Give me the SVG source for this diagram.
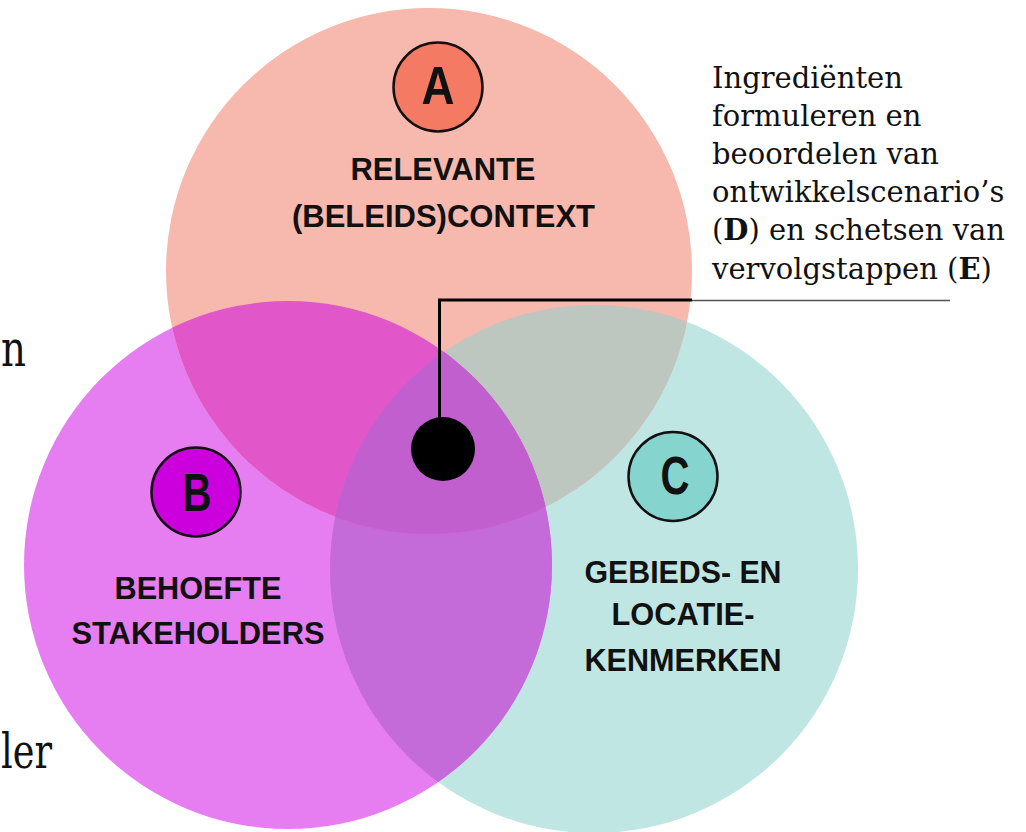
<svg xmlns="http://www.w3.org/2000/svg" width="1026" height="832" viewBox="0 0 1026 832">
<style>
.lbl{font-family:"Liberation Sans Narrow","Liberation Sans",Arial,sans-serif;font-weight:bold;font-size:32px;fill:#111;text-anchor:middle}
.badge{stroke:#111;stroke-width:2.5}
.bl{font-family:"Liberation Sans Narrow","Liberation Sans",Arial,sans-serif;font-weight:bold;font-size:54px;fill:#111;text-anchor:middle}
.serif{font-family:"DejaVu Serif","Liberation Serif",serif;fill:#111}
</style>
<defs>
<clipPath id="clipA"><circle cx="429" cy="271" r="263"/></clipPath>
<clipPath id="clipB"><circle cx="288" cy="565" r="264"/></clipPath>
</defs>
<rect width="1026" height="832" fill="#fff"/>
<g id="fragments" class="serif">
<text x="1" y="366" font-size="50" textLength="25" lengthAdjust="spacingAndGlyphs">n</text>
<text x="1" y="768" font-size="48" textLength="51" lengthAdjust="spacingAndGlyphs">ler</text>
</g>
<g id="circle-c"><circle cx="594" cy="569" r="264" fill="#C0E6E4"/></g>
<g id="circle-b"><circle cx="288" cy="565" r="264" fill="#E67EF1"/></g>
<g id="circle-a"><circle cx="429" cy="271" r="263" fill="#F7B8AE"/></g>
<g id="overlaps">
<g clip-path="url(#clipA)"><circle cx="594" cy="569" r="264" fill="#BEC6C0"/></g>
<g clip-path="url(#clipB)"><circle cx="594" cy="569" r="264" fill="#C46AD9"/></g>
<g clip-path="url(#clipA)"><circle cx="288" cy="565" r="264" fill="#E157C9"/></g>
<g clip-path="url(#clipA)"><g clip-path="url(#clipB)"><circle cx="594" cy="569" r="264" fill="#C25FCF"/></g></g>
</g>
<g id="node-a">
<circle class="badge" cx="438" cy="87" r="44.5" fill="#F47A63"/>
<text class="bl" x="438" y="104" textLength="33" lengthAdjust="spacingAndGlyphs">A</text>
<text class="lbl" x="443" y="180" textLength="185" lengthAdjust="spacingAndGlyphs">RELEVANTE</text>
<text class="lbl" x="443.5" y="227" textLength="303" lengthAdjust="spacingAndGlyphs">(BELEIDS)CONTEXT</text>
</g>
<g id="node-b">
<circle class="badge" cx="196" cy="492" r="44.5" fill="#CC00DC"/>
<text class="bl" x="197" y="511" textLength="29" lengthAdjust="spacingAndGlyphs">B</text>
<text class="lbl" x="198" y="599" textLength="167" lengthAdjust="spacingAndGlyphs">BEHOEFTE</text>
<text class="lbl" x="198" y="644" textLength="253" lengthAdjust="spacingAndGlyphs">STAKEHOLDERS</text>
</g>
<g id="node-c">
<circle class="badge" cx="673" cy="476.5" r="44.5" fill="#86D4CE"/>
<text class="bl" x="675" y="494" textLength="29" lengthAdjust="spacingAndGlyphs">C</text>
<text class="lbl" x="683" y="583" textLength="197" lengthAdjust="spacingAndGlyphs">GEBIEDS- EN</text>
<text class="lbl" x="683" y="625" textLength="143" lengthAdjust="spacingAndGlyphs">LOCATIE-</text>
<text class="lbl" x="683" y="671" textLength="197" lengthAdjust="spacingAndGlyphs">KENMERKEN</text>
</g>
<g id="node-center"><circle cx="443" cy="449" r="32" fill="#000"/></g>
<g id="connectors" fill="none">
<path d="M439.5,420 V300 H692" stroke="#000" stroke-width="3"/>
<path d="M692,300.5 H950" stroke="#555" stroke-width="1.5"/>
</g>
<g id="annotation" class="serif" font-size="29">
<text x="712" y="88">Ingrediënten</text>
<text x="712" y="126">formuleren en</text>
<text x="712" y="164">beoordelen van</text>
<text x="712" y="202">ontwikkelscenario’s</text>
<text x="712" y="240">(<tspan font-weight="bold">D</tspan>) en schetsen van</text>
<text x="712" y="279">vervolgstappen (<tspan font-weight="bold">E</tspan>)</text>
</g>
</svg>
